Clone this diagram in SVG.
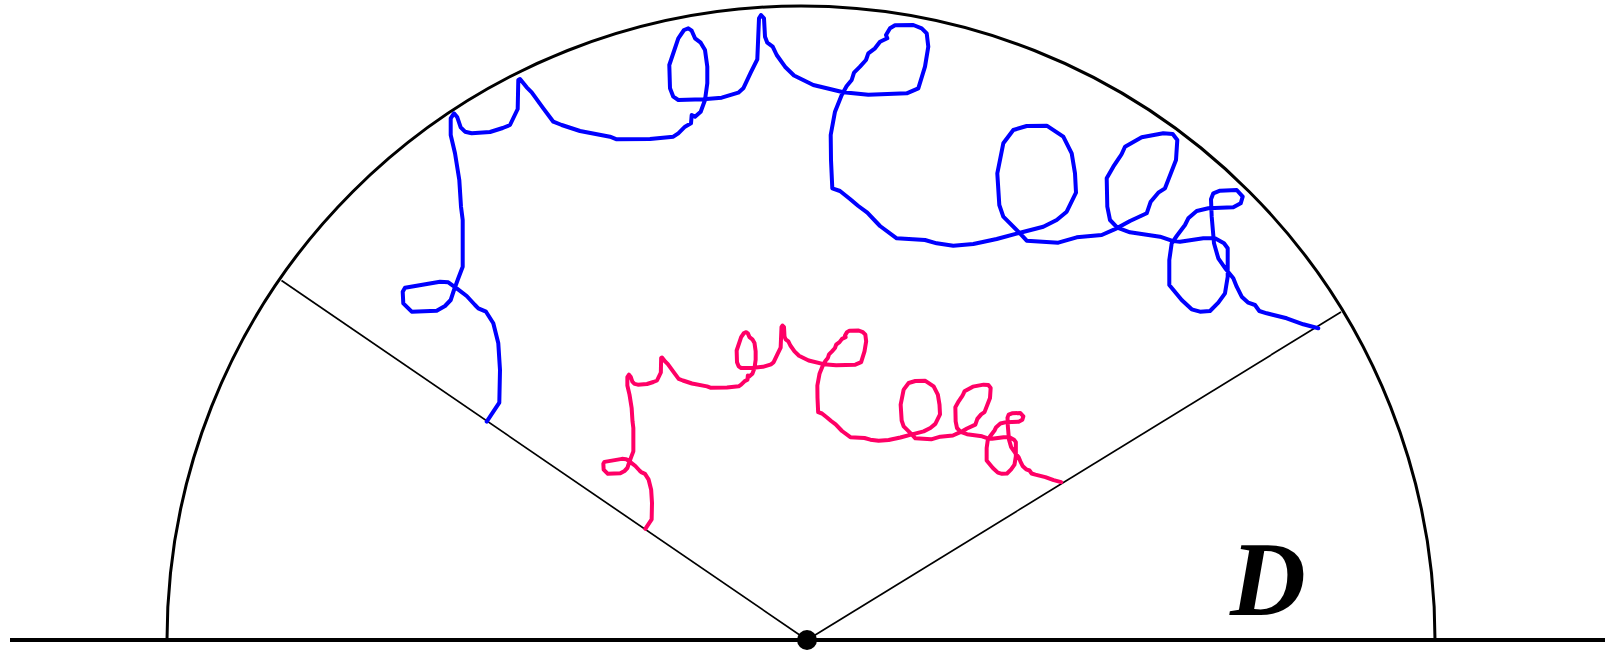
<svg xmlns="http://www.w3.org/2000/svg" xmlns:xlink="http://www.w3.org/1999/xlink" width="1605" height="651" viewBox="0 0 1605 651">
<style>
.walk{fill:none;stroke-width:4;stroke-linejoin:round;stroke-linecap:round}
.thin{stroke:#000;stroke-width:1.7;fill:none}
</style>
<defs>
<polyline id="w" vector-effect="non-scaling-stroke" points="486.7,421.7 499.3,402.7 500,370 498.3,343.3 493.3,323.3 486,311.7 478.3,308.3 475,305 466.7,296 456.7,288.3 448.3,282.3 440,281.7 405,287.7 402.7,291.7 403.3,303.3 411.7,311.7 436.7,310.7 445,306 450.7,300 454,290 458.3,278.3 462.7,266.7 462.7,220 461,206.7 459.3,180 455,153.3 450.7,135 450.7,118.3 454,113.3 457.3,117.3 460.7,127.3 465,131.7 471.7,133.3 490,132 502.7,128 510,125 517.7,109 518.3,80 520,79 526.7,87.3 531.7,92.3 543.3,108.3 553.3,121.7 561.7,125 580,131 610,136.7 616.7,139.3 650,139 673.3,136.7 678.3,133.3 685,126.7 691,123.3 691.7,115 695,116.7 700.7,111.7 705,100 707.3,83.3 707.3,66.7 705,50 700.7,42.7 695,38.3 691.7,30.7 688.3,28.3 684,30 678.3,38.3 669.3,65 670,88.3 673.3,96.7 678.3,100 703.3,99.3 721.7,97.7 738.3,92.7 743.3,88.3 750.7,72.7 757.3,59.3 759,18.3 761,15 764,18.3 765,36.7 767.3,42.7 772.7,46.7 776.7,55 785,66.7 794,75.5 813.3,85 843.3,92.3 868.3,94.7 906.7,93.3 918.3,88.3 925,66.7 928.3,46.7 926.7,33.3 921.7,28.3 913.3,25 895,25.3 890,28.3 886,35 887.3,38.3 880,41.7 875,48.3 868.3,53.3 866,60 860,66.7 854,72.7 851.7,80 846.7,86 841.7,95 835,111.7 830.7,135 831,160 832.3,188.3 840,191 850,199 858.3,206 867.3,212.7 880,226 896.7,238.3 925,240 936.7,243.3 953.3,245.7 973.3,244 996.7,239 1020,232.7 1043.3,226.7 1056.7,220 1066.7,211.7 1076,192.7 1075,173.3 1071.7,153.3 1063.3,136.7 1046.7,125.7 1026.7,126 1013.3,130 1003.3,143.3 997.3,173.3 999.3,205 1003.3,216.7 1020,233.3 1026.7,240.7 1058.3,242.7 1076.7,237.3 1101.7,235 1116.7,228.3 1130,221 1146.7,213.3 1150.7,201.7 1158.3,192.7 1165,188.3 1176,160 1177.3,140 1172.7,134 1163.3,133.3 1141.7,137.3 1125,146.7 1121.7,154 1120,156.7 1113.3,166.7 1106.7,178.3 1107.3,206.7 1110,220 1117.3,227.7 1130,232.3 1160,236.7 1171.7,240.7 1180,241.7 1203.3,238.3 1215,238.3 1224,243.3 1227.7,248.3 1227.7,276.7 1225,293.3 1218.3,302.7 1210,311 1200,311.7 1191.7,309.3 1181.7,300 1169.3,285 1169.3,260 1171.7,243.3 1176.7,236 1185,225 1188.3,218.3 1196.7,211 1208.3,208.3 1233.3,207.3 1240.7,203.3 1242.7,196.7 1236.7,190 1220,190.7 1213.3,193.3 1211,199.3 1211.7,216.7 1214,243.3 1218.3,258.3 1226,269.3 1233.3,278.3 1236.7,286.7 1241.7,296.7 1248.3,302.7 1255,305 1259.3,311 1266.7,313.3 1286.7,318.3 1303.3,324.3 1318.3,328.3"/>
</defs>
<rect width="1605" height="651" fill="#fff"/>
<line x1="10" y1="640" x2="1605" y2="640" stroke="#000" stroke-width="4"/>
<path d="M167,640 A634,634 0 0 1 1435,640" fill="none" stroke="#000" stroke-width="3"/>
<g id="connectors">
<line class="thin" x1="281.5" y1="280.5" x2="807" y2="640"/>
<line class="thin" x1="807" y1="640" x2="1341" y2="312"/>
</g>
<use xlink:href="#w" href="#w" class="walk" stroke="#0000ff"/>
<use xlink:href="#w" href="#w" class="walk" stroke="#ff0066" transform="translate(402,318) scale(0.5)"/>
<circle cx="807" cy="640" r="10" fill="#000"/>
<text x="1230" y="615" font-family="Liberation Serif, serif" font-style="italic" font-weight="bold" font-size="105">D</text>
</svg>
